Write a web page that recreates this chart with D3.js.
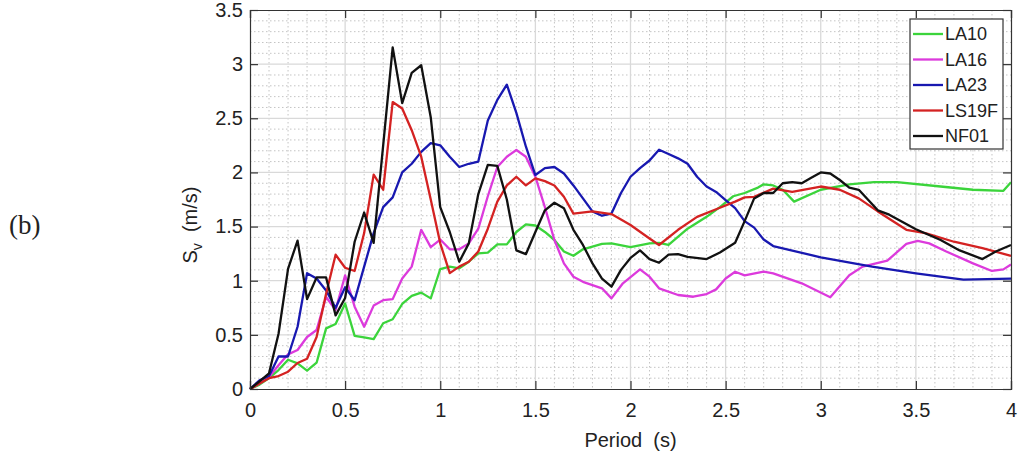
<!DOCTYPE html>
<html>
<head>
<meta charset="utf-8">
<script src="https://cdn.jsdelivr.net/npm/d3@7"></script>
<style>
  body { margin: 0; background: #fff; }
  text { font-family: "Liberation Sans", Arial, sans-serif; fill: #222; }
</style>
</head>
<body>
<svg id="chart" width="1021" height="459"></svg>
<script>
// series names + colours (legend order)
const seriesNames = ["LA10", "LA16", "LA23", "LS19F", "NF01"];
const seriesColors = ["#3bd43b", "#dc3adc", "#1818b0", "#d42222", "#111111"];

// [period (s), Sv (m/s)]
const la10 = [[0,0],[0.05,0.04],[0.1,0.10],[0.15,0.175],[0.2,0.27],[0.25,0.237],[0.3,0.17],[0.35,0.243],[0.4,0.56],[0.45,0.60],[0.5,0.79],[0.55,0.49],[0.6,0.477],[0.65,0.46],[0.7,0.607],[0.75,0.644],[0.8,0.785],[0.85,0.86],[0.9,0.89],[0.95,0.837],[1.0,1.108],[1.05,1.13],[1.1,1.114],[1.15,1.175],[1.2,1.253],[1.25,1.26],[1.3,1.336],[1.35,1.336],[1.4,1.45],[1.45,1.52],[1.5,1.51],[1.55,1.45],[1.6,1.376],[1.65,1.27],[1.7,1.23],[1.75,1.29],[1.85,1.34],[1.9,1.345],[2.0,1.31],[2.1,1.345],[2.15,1.35],[2.2,1.33],[2.3,1.48],[2.4,1.59],[2.47,1.68],[2.54,1.78],[2.6,1.81],[2.67,1.86],[2.7,1.89],[2.75,1.88],[2.8,1.84],[2.86,1.73],[3.0,1.84],[3.15,1.89],[3.28,1.91],[3.4,1.91],[3.63,1.87],[3.8,1.84],[3.96,1.83],[4.0,1.91]];
const la16 = [[0,0],[0.05,0.05],[0.1,0.11],[0.15,0.22],[0.2,0.32],[0.25,0.36],[0.3,0.48],[0.35,0.545],[0.4,0.85],[0.45,0.73],[0.5,1.05],[0.55,0.76],[0.6,0.575],[0.65,0.77],[0.7,0.82],[0.75,0.83],[0.8,1.02],[0.85,1.13],[0.9,1.47],[0.95,1.31],[1.0,1.38],[1.05,1.29],[1.1,1.29],[1.15,1.345],[1.2,1.48],[1.25,1.78],[1.3,2.05],[1.35,2.145],[1.4,2.207],[1.45,2.145],[1.5,1.96],[1.55,1.68],[1.6,1.376],[1.65,1.16],[1.7,1.037],[1.75,0.99],[1.85,0.93],[1.9,0.837],[1.96,0.976],[2.05,1.105],[2.1,1.037],[2.15,0.93],[2.25,0.868],[2.33,0.852],[2.4,0.877],[2.45,0.92],[2.5,1.02],[2.55,1.083],[2.6,1.05],[2.7,1.083],[2.75,1.068],[2.9,0.976],[3.05,0.847],[3.15,1.05],[3.22,1.13],[3.35,1.185],[3.45,1.34],[3.51,1.367],[3.57,1.345],[3.66,1.27],[3.8,1.16],[3.9,1.09],[3.96,1.105],[4.0,1.15]];
const la23 = [[0,0],[0.05,0.08],[0.1,0.12],[0.15,0.30],[0.2,0.30],[0.25,0.575],[0.3,1.07],[0.35,1.02],[0.4,0.91],[0.45,0.75],[0.5,0.94],[0.55,0.82],[0.6,1.13],[0.65,1.44],[0.7,1.68],[0.75,1.77],[0.8,2.0],[0.85,2.08],[0.9,2.19],[0.95,2.27],[1.0,2.25],[1.05,2.145],[1.1,2.05],[1.15,2.08],[1.2,2.10],[1.25,2.48],[1.3,2.67],[1.35,2.81],[1.4,2.55],[1.45,2.24],[1.5,1.976],[1.55,2.04],[1.6,2.05],[1.65,1.99],[1.7,1.88],[1.75,1.76],[1.8,1.64],[1.85,1.60],[1.9,1.62],[1.95,1.81],[2.0,1.96],[2.05,2.04],[2.1,2.11],[2.15,2.21],[2.2,2.17],[2.25,2.13],[2.3,2.08],[2.35,1.96],[2.4,1.87],[2.45,1.82],[2.5,1.745],[2.55,1.67],[2.6,1.55],[2.65,1.49],[2.7,1.38],[2.75,1.32],[3.0,1.216],[3.27,1.13],[3.5,1.068],[3.75,1.01],[4.0,1.02]];
const ls19f = [[0,0],[0.05,0.05],[0.1,0.1],[0.15,0.12],[0.2,0.16],[0.25,0.24],[0.3,0.28],[0.35,0.48],[0.4,0.88],[0.45,1.24],[0.5,1.12],[0.55,1.09],[0.6,1.44],[0.65,1.98],[0.7,1.84],[0.75,2.65],[0.8,2.59],[0.85,2.39],[0.9,2.145],[0.95,1.75],[1.0,1.345],[1.05,1.07],[1.1,1.13],[1.15,1.175],[1.2,1.27],[1.25,1.48],[1.3,1.73],[1.35,1.88],[1.4,1.96],[1.45,1.88],[1.5,1.945],[1.55,1.92],[1.6,1.88],[1.65,1.775],[1.7,1.62],[1.8,1.64],[1.9,1.615],[2.0,1.515],[2.1,1.39],[2.15,1.33],[2.25,1.47],[2.35,1.59],[2.45,1.66],[2.55,1.73],[2.6,1.77],[2.65,1.775],[2.75,1.85],[2.85,1.82],[3.0,1.87],[3.1,1.84],[3.2,1.76],[3.3,1.64],[3.45,1.47],[3.55,1.44],[3.7,1.36],[3.85,1.30],[4.0,1.23]];
const nf01 = [[0,0],[0.05,0.07],[0.1,0.145],[0.15,0.51],[0.2,1.11],[0.25,1.37],[0.3,0.83],[0.35,1.03],[0.4,1.03],[0.45,0.68],[0.5,0.84],[0.55,1.36],[0.6,1.63],[0.65,1.35],[0.7,2.25],[0.75,3.155],[0.8,2.64],[0.85,2.92],[0.9,2.99],[0.95,2.51],[1.0,1.68],[1.05,1.45],[1.1,1.175],[1.15,1.345],[1.2,1.8],[1.25,2.07],[1.3,2.06],[1.35,1.75],[1.4,1.28],[1.45,1.245],[1.5,1.45],[1.55,1.65],[1.6,1.72],[1.65,1.67],[1.7,1.47],[1.75,1.33],[1.8,1.16],[1.85,1.02],[1.9,0.945],[1.95,1.10],[2.0,1.21],[2.05,1.28],[2.1,1.20],[2.15,1.166],[2.2,1.24],[2.25,1.245],[2.3,1.22],[2.4,1.20],[2.47,1.26],[2.55,1.35],[2.6,1.55],[2.65,1.76],[2.7,1.81],[2.75,1.81],[2.8,1.90],[2.85,1.91],[2.9,1.90],[2.95,1.95],[3.0,2.0],[3.05,1.99],[3.1,1.93],[3.15,1.86],[3.2,1.84],[3.25,1.745],[3.3,1.65],[3.36,1.61],[3.5,1.475],[3.63,1.376],[3.73,1.28],[3.85,1.20],[3.92,1.27],[4.0,1.33]];

// tick labels
const xTicks = [0, 0.5, 1, 1.5, 2, 2.5, 3, 3.5, 4];
const yTicks = [0, 0.5, 1, 1.5, 2, 2.5, 3, 3.5];

const allSeries = [la10, la16, la23, ls19f, nf01];

const svg = d3.select("#chart");
const plot = { left: 250, right: 1011, top: 10, bottom: 389 };

const x = d3.scaleLinear().domain([0, 4]).range([plot.left, plot.right]);
const y = d3.scaleLinear().domain([0, 3.5]).range([plot.bottom, plot.top]);

svg.append("rect").attr("width", 1021).attr("height", 459).attr("fill", "#fff");

drawGrid();
drawLines();
drawAxes();
drawLegend();
drawLabels();

function drawGrid() {
  const g = svg.append("g");
  // minor grid every 0.1 (dotted)
  const minorX = d3.range(1, 40).map(i => i / 10).filter(v => Math.abs(v * 2 - Math.round(v * 2)) > 1e-6);
  const minorY = d3.range(1, 35).map(i => i / 10).filter(v => Math.abs(v * 2 - Math.round(v * 2)) > 1e-6);

  g.selectAll(".mx").data(minorX).enter().append("line")
    .attr("x1", d => x(d)).attr("x2", d => x(d))
    .attr("y1", plot.top).attr("y2", plot.bottom)
    .attr("stroke", "#c4c4c4").attr("stroke-width", 1).attr("stroke-dasharray", "1.5,2.5");
  g.selectAll(".my").data(minorY).enter().append("line")
    .attr("y1", d => y(d)).attr("y2", d => y(d))
    .attr("x1", plot.left).attr("x2", plot.right)
    .attr("stroke", "#c4c4c4").attr("stroke-width", 1).attr("stroke-dasharray", "1.5,2.5");

  // major grid (solid light grey)
  g.selectAll(".gx").data(xTicks.slice(1, -1)).enter().append("line")
    .attr("x1", d => x(d)).attr("x2", d => x(d))
    .attr("y1", plot.top).attr("y2", plot.bottom)
    .attr("stroke", "#d9d9d9").attr("stroke-width", 1.3);
  g.selectAll(".gy").data(yTicks.slice(1, -1)).enter().append("line")
    .attr("y1", d => y(d)).attr("y2", d => y(d))
    .attr("x1", plot.left).attr("x2", plot.right)
    .attr("stroke", "#d9d9d9").attr("stroke-width", 1.3);
}

function drawLines() {
  const line = d3.line().x(d => x(d[0])).y(d => y(d[1]));
  svg.append("g").selectAll("path")
    .data(allSeries)
    .enter()
    .append("path")
    .attr("d", line)
    .attr("fill", "none")
    .attr("stroke", (d, i) => seriesColors[i])
    .attr("stroke-width", 2.3)
    .attr("stroke-linejoin", "round");
}

function drawAxes() {
  // bottom + left axes, ticks pointing inward
  const xAxis = svg.append("g").attr("transform", "translate(0," + plot.bottom + ")")
    .call(d3.axisBottom(x).tickValues(xTicks).tickSize(-8).tickPadding(14).tickFormat(d3.format("")));
  const yAxis = svg.append("g").attr("transform", "translate(" + plot.left + ",0)")
    .call(d3.axisLeft(y).tickValues(yTicks).tickSize(-8).tickPadding(7).tickFormat(d3.format("")));
  // mirrored top + right
  const xTop = svg.append("g").attr("transform", "translate(0," + plot.top + ")")
    .call(d3.axisTop(x).tickValues(xTicks).tickSize(-8).tickFormat(""));
  const yRight = svg.append("g").attr("transform", "translate(" + plot.right + ",0)")
    .call(d3.axisRight(y).tickValues(yTicks).tickSize(-8).tickFormat(""));

  [xAxis, yAxis, xTop, yRight].forEach(a => {
    a.select(".domain").attr("stroke", "#333").attr("stroke-width", 1.2);
    a.selectAll(".tick line").attr("stroke", "#333").attr("stroke-width", 1.2);
    a.selectAll("text").style("font-size", "20px").attr("fill", "#1a1a1a")
      .style("font-family", "'Liberation Sans', Arial, sans-serif");
  });
}

function drawLegend() {
  const lg = svg.append("g");
  lg.append("rect")
    .attr("x", 910).attr("y", 19).attr("width", 93).attr("height", 130)
    .attr("fill", "#fff").attr("stroke", "#333").attr("stroke-width", 1.2);

  const rows = lg.selectAll(".row").data(seriesNames).enter().append("g")
    .attr("transform", (d, i) => "translate(0," + (34 + i * 25.5) + ")");
  rows.append("line")
    .attr("x1", 913).attr("x2", 943).attr("y1", 0).attr("y2", 0)
    .attr("stroke", (d, i) => seriesColors[i]).attr("stroke-width", 2.3);
  rows.append("text")
    .attr("x", 945).attr("y", 0).attr("dy", "0.36em")
    .style("font-size", "18px")
    .text(d => d);
}

function drawLabels() {
  svg.append("text")
    .attr("x", (plot.left + plot.right) / 2).attr("y", 447)
    .attr("text-anchor", "middle")
    .style("font-size", "20px").style("white-space", "pre")
    .text("Period  (s)");

  const yl = svg.append("text")
    .attr("transform", "translate(197,225) rotate(-90)")
    .attr("text-anchor", "middle")
    .style("font-size", "20px").style("white-space", "pre");
  yl.append("tspan").text("S");
  yl.append("tspan").attr("dy", 5).style("font-size", "14px").text("v");
  yl.append("tspan").attr("dy", -5).text("  (m/s)");

  svg.append("text")
    .attr("x", 9).attr("y", 234)
    .style("font-family", "'Liberation Serif', 'Times New Roman', serif")
    .style("font-size", "27px")
    .text("(b)");
}
</script>
</body>
</html>
